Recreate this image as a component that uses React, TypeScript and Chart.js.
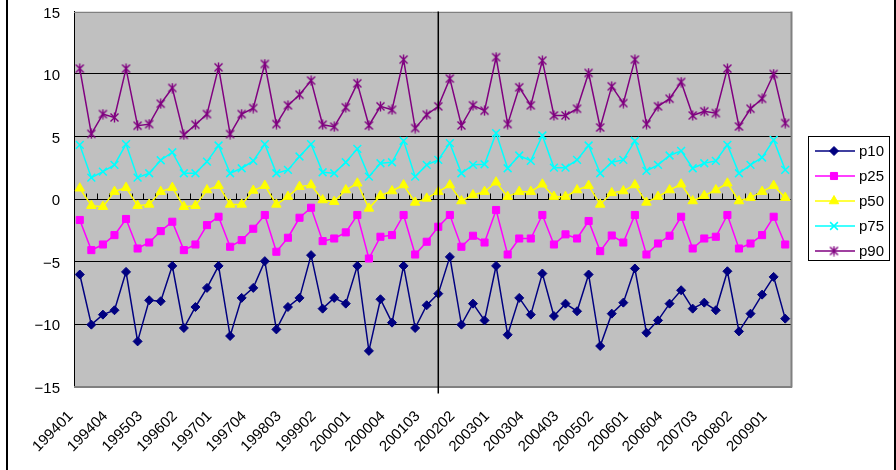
import React, { useEffect, useRef } from "react";
import { Chart, registerables } from "chart.js";
import { drawPoint } from "chart.js/helpers";

Chart.register(...registerables);

// ---- data ----
const categories: string[] = [
  "199401", "199402", "199403", "199404",
  "199501", "199502", "199503", "199504",
  "199601", "199602", "199603", "199604",
  "199701", "199702", "199703", "199704",
  "199801", "199802", "199803", "199804",
  "199901", "199902", "199903", "199904",
  "200001", "200002", "200003", "200004",
  "200101", "200102", "200103", "200104",
  "200201", "200202", "200203", "200204",
  "200301", "200302", "200303", "200304",
  "200401", "200402", "200403", "200404",
  "200501", "200502", "200503", "200504",
  "200601", "200602", "200603", "200604",
  "200701", "200702", "200703", "200704",
  "200801", "200802", "200803", "200804",
  "200901", "200902",
];

const labeledCategories: string[] = [
  "199401", "199404", "199503", "199602", "199701", "199704", "199803",
  "199902", "200001", "200004", "200103", "200202", "200301", "200304",
  "200403", "200502", "200601", "200604", "200703", "200802", "200901",
];

const markerCategory = "200104";

const p10: number[] = [
  -6.04, -10.05, -9.25, -8.9, -5.83, -11.39, -8.1, -8.18, -5.35, -10.32, -8.64, -7.11, -5.35, -10.96, -7.91, -7.11,
  -4.97, -10.43, -8.64, -7.91, -4.49, -8.77, -7.91, -8.37, -5.35, -12.15, -8.02, -9.89, -5.35, -10.32, -8.5,
  -7.57, -4.63, -10.05, -8.37, -9.71, -5.35, -10.86, -7.91, -9.25, -5.96, -9.36, -8.37, -8.98, -6.04, -11.76, -9.17,
  -8.29, -5.56, -10.7, -9.71, -8.37, -7.3, -8.77, -8.29, -8.9, -5.78, -10.59, -9.17, -7.65, -6.23, -9.57,
];
const p25: number[] = [
  -1.68, -4.09, -3.64, -2.89, -1.6, -3.96, -3.48, -2.57, -1.82, -4.09, -3.64, -2.09, -1.42, -3.82, -3.29, -2.38,
  -1.28, -4.22, -3.1, -1.5, -0.7, -3.37, -3.16, -2.67, -1.28, -4.76, -3.02, -2.89, -1.28, -4.44, -3.42,
  -2.22, -1.28, -3.82, -2.94, -3.48, -0.88, -4.44, -3.16, -3.16, -1.28, -3.64, -2.83, -3.16, -1.76, -4.17, -2.92,
  -3.48, -1.28, -4.44, -3.56, -2.94, -1.42, -3.96, -3.16, -3.02, -1.28, -3.96, -3.56, -2.89, -1.42, -3.64,
];
const p50: number[] = [
  0.86, -0.53, -0.61, 0.59, 0.91, -0.53, -0.43, 0.59, 0.91, -0.61, -0.53, 0.72, 1.07, -0.43, -0.43, 0.68,
  1.07, -0.43, 0.19, 0.99, 1.12, -0.08, -0.21, 0.72, 1.26, -0.75, 0.27, 0.64, 1.12, -0.27, 0.05,
  0.59, 1.12, -0.16, 0.32, 0.59, 1.34, 0.19, 0.59, 0.59, 1.18, 0.19, 0.19, 0.72, 1.07, -0.43, 0.49,
  0.64, 1.12, -0.27, 0.19, 0.72, 1.18, -0.16, 0.27, 0.72, 1.26, -0.16, 0.11, 0.59, 1.07, 0.11,
];
const p75: number[] = [
  4.33, 1.71, 2.19, 2.73, 4.39, 1.71, 2.06, 3.1, 3.74, 2.06, 2.06, 2.99, 4.28, 2.06, 2.46, 3.05,
  4.39, 2.06, 2.33, 3.4, 4.39, 2.14, 2.06, 2.94, 4.01, 1.79, 2.86, 2.94, 4.65, 1.79, 2.73,
  3.13, 4.47, 2.06, 2.73, 2.78, 5.27, 2.46, 3.48, 3.05, 5.08, 2.51, 2.51, 3.13, 4.28, 2.06, 2.94,
  3.13, 4.65, 2.25, 2.73, 3.48, 3.85, 2.46, 2.86, 3.05, 4.33, 2.06, 2.73, 3.32, 4.73, 2.33,
];
const p90: number[] = [
  10.43, 5.21, 6.79, 6.52, 10.43, 5.86, 5.99, 7.62, 8.88, 5.13, 5.94, 6.79, 10.53, 5.19, 6.79, 7.27,
  10.8, 5.99, 7.49, 8.34, 9.47, 5.94, 5.78, 7.33, 9.25, 5.88, 7.41, 7.14, 11.15, 5.67, 6.74,
  7.41, 9.63, 5.88, 7.49, 7.06, 11.34, 5.99, 8.93, 7.49, 11.07, 6.68, 6.68, 7.22, 10.08, 5.72, 9.01,
  7.67, 11.15, 5.99, 7.41, 8.02, 9.36, 6.68, 7.01, 6.87, 10.43, 5.8, 7.22, 8.02, 10.0, 6.07,
];

const seriesNames = ["p10", "p25", "p50", "p75", "p90"];
const yMin = -15;
const yMax = 15;
const yStep = 5;

const FONT = "'Liberation Sans', Arial, sans-serif";

function makeAsterisk(color: string): HTMLCanvasElement {
  const c = document.createElement("canvas");
  c.width = 11;
  c.height = 11;
  const g = c.getContext("2d")!;
  g.strokeStyle = color;
  g.lineWidth = 1.4;
  g.beginPath();
  g.moveTo(1.5, 1.5);
  g.lineTo(9.5, 9.5);
  g.moveTo(9.5, 1.5);
  g.lineTo(1.5, 9.5);
  g.moveTo(5.5, 0.5);
  g.lineTo(5.5, 10.5);
  g.stroke();
  return c;
}

export default function App() {
  const ref = useRef<HTMLCanvasElement>(null);

  useEffect(() => {
    const canvas = ref.current!;
    const star = makeAsterisk("#800080");

    const styles = [
      { color: "#000080", pointStyle: "rectRot", radius: 4.5, pbw: 1 },
      { color: "#FF00FF", pointStyle: "rect", radius: 5, pbw: 1 },
      { color: "#FFFF00", pointStyle: "triangle", radius: 5.5, pbw: 1 },
      { color: "#00FFFF", pointStyle: "crossRot", radius: 5.5, pbw: 1.5 },
      { color: "#800080", pointStyle: star as any, radius: 5.5, pbw: 1 },
    ];
    const values = [p10, p25, p50, p75, p90];

    const datasets = seriesNames.map((name, i) => ({
      label: name,
      data: values[i],
      borderColor: styles[i].color,
      backgroundColor: styles[i].color,
      borderWidth: 1.5,
      pointStyle: styles[i].pointStyle,
      pointRadius: styles[i].radius,
      pointBorderWidth: styles[i].pbw,
      pointBorderColor: styles[i].color,
      pointBackgroundColor: styles[i].color,
      tension: 0,
      fill: false,
    }));

    const decor = {
      id: "decor",
      beforeDraw(chart: any) {
        const { ctx, chartArea } = chart;
        ctx.save();
        ctx.fillStyle = "#ffffff";
        ctx.fillRect(0, 0, chart.width, chart.height);
        ctx.fillStyle = "#C0C0C0";
        ctx.fillRect(chartArea.left, chartArea.top, chartArea.right - chartArea.left, chartArea.bottom - chartArea.top);
        ctx.restore();
      },
      beforeDatasetsDraw(chart: any) {
        const { ctx, chartArea } = chart;
        const xs = chart.scales.x;
        const ys = chart.scales.y;
        const y0 = Math.round(ys.getPixelForValue(0)) + 0.5;
        ctx.save();
        // zero line tick marks at category boundaries
        ctx.strokeStyle = "#000";
        ctx.lineWidth = 1;
        ctx.beginPath();
        for (let k = 0; k <= categories.length; k++) {
          const x = Math.round(xs.getPixelForValue(k - 0.5)) + 0.5;
          ctx.moveTo(x, y0);
          ctx.lineTo(x, y0 - 6);
        }
        ctx.stroke();
        // plot-area border (top, right, bottom)
        ctx.strokeStyle = "#808080";
        ctx.lineWidth = 1;
        ctx.beginPath();
        ctx.moveTo(chartArea.left, Math.round(chartArea.top) + 0.5);
        ctx.lineTo(chartArea.right, Math.round(chartArea.top) + 0.5);
        ctx.stroke();
        ctx.lineWidth = 2;
        ctx.beginPath();
        ctx.moveTo(Math.round(chartArea.right) + 0.5, chartArea.top);
        ctx.lineTo(Math.round(chartArea.right) + 0.5, chartArea.bottom + 1);
        ctx.moveTo(chartArea.left, Math.round(chartArea.bottom));
        ctx.lineTo(chartArea.right + 1, Math.round(chartArea.bottom));
        ctx.stroke();
        ctx.restore();
      },
      afterDatasetsDraw(chart: any) {
        const { ctx, chartArea } = chart;
        const xs = chart.scales.x;
        const idx = categories.indexOf(markerCategory);
        const x = xs.getPixelForValue(idx);
        ctx.save();
        ctx.strokeStyle = "#000";
        ctx.lineWidth = 1.5;
        ctx.beginPath();
        ctx.moveTo(x, chartArea.top);
        ctx.lineTo(x, chartArea.bottom + 7);
        ctx.stroke();
        ctx.restore();
      },
      afterDraw(chart: any) {
        const { ctx } = chart;
        ctx.save();
        // outer frame
        ctx.strokeStyle = "#000";
        ctx.lineWidth = 2;
        ctx.beginPath();
        ctx.moveTo(7, 0);
        ctx.lineTo(7, chart.height);
        ctx.moveTo(895, 0);
        ctx.lineTo(895, chart.height);
        ctx.stroke();
        // legend
        const bx = 808.5, by = 136.5, bw = 81, bh = 124;
        ctx.fillStyle = "#fff";
        ctx.fillRect(bx, by, bw, bh);
        ctx.strokeStyle = "#000";
        ctx.lineWidth = 1;
        ctx.strokeRect(bx, by, bw, bh);
        chart.data.datasets.forEach((ds: any, i: number) => {
          const y = 151 + i * 25;
          ctx.strokeStyle = ds.borderColor;
          ctx.lineWidth = 1.5;
          ctx.beginPath();
          ctx.moveTo(815, y);
          ctx.lineTo(855, y);
          ctx.stroke();
          ctx.fillStyle = ds.pointBackgroundColor;
          ctx.strokeStyle = ds.pointBorderColor;
          ctx.lineWidth = ds.pointBorderWidth;
          drawPoint(ctx, { pointStyle: ds.pointStyle, radius: ds.pointRadius, rotation: 0, borderWidth: ds.pointBorderWidth }, 834, y);
          ctx.fillStyle = "#000";
          ctx.font = `15px ${FONT}`;
          ctx.textAlign = "left";
          ctx.textBaseline = "middle";
          ctx.fillText(ds.label, 859, y + 1);
        });
        ctx.restore();
      },
    };

    const chart = new Chart(canvas, {
      type: "line",
      data: { labels: categories, datasets: datasets as any },
      options: {
        animation: false,
        responsive: false,
        devicePixelRatio: 1,
        layout: { padding: { left: 0, right: 105, top: 11.5, bottom: 0 } },
        plugins: { legend: { display: false }, tooltip: { enabled: false } },
        scales: {
          x: {
            type: "category",
            offset: true,
            grid: { display: false, offset: true },
            border: { display: false },
            ticks: {
              autoSkip: false,
              minRotation: 45,
              maxRotation: 45,
              labelOffset: -9,
              padding: 13,
              color: "#000",
              font: { family: FONT, size: 15 },
              callback: (v: any, i: number) => (labeledCategories.includes(categories[i]) ? categories[i] : ""),
            },
            afterFit: (s: any) => {
              s.height = 470 - 386.5;
              s.paddingLeft = 0;
              s.paddingRight = 0;
            },
          },
          y: {
            min: yMin,
            max: yMax,
            grid: {
              drawTicks: false,
              color: (c: any) => (c.tick && (c.tick.value === yMin || c.tick.value === yMax) ? "rgba(0,0,0,0)" : "#000"),
              lineWidth: 1,
            },
            border: { display: true, color: "#000", width: 1 },
            ticks: {
              stepSize: yStep,
              padding: 14,
              labelOffset: 2,
              color: "#000",
              font: { family: FONT, size: 15 },
              callback: (v: any) => (Number(v) < 0 ? "\u2212" + Math.abs(Number(v)) : String(v)),
            },
            afterFit: (s: any) => {
              s.width = 74;
              s.paddingTop = 0;
              s.paddingBottom = 0;
            },
          },
        },
      },
      plugins: [decor],
    });

    return () => chart.destroy();
  }, []);

  return (
    <div style={{ position: "absolute", left: 0, top: 0, width: 896, height: 470 }}>
      <canvas ref={ref} width={896} height={470} style={{ display: "block" }} />
    </div>
  );
}
